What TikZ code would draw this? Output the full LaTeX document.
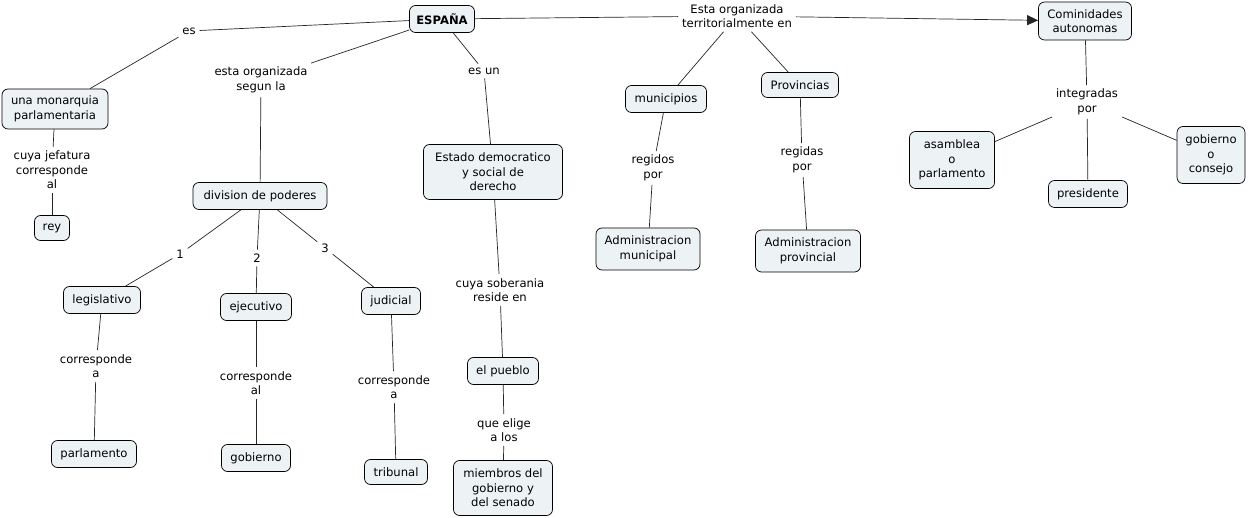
\documentclass[tikz,border=0pt]{standalone}
\usepackage{fontspec}
\setmainfont{DejaVu Sans}
\usetikzlibrary{arrows.meta}
\definecolor{boxfill}{HTML}{EDF3F5}
\newcommand{\fs}{\fontsize{11.6pt}{14.6pt}\selectfont}
\tikzset{
  cbox/.style={draw=black, line width=0.7pt, rounded corners=6pt, fill=boxfill, inner sep=0pt, align=center, font=\fs},
  lbl/.style={align=center, inner sep=1pt, outer sep=3pt, font=\fs},
  conn/.style={draw=black!85, line width=0.7pt},
}
\begin{document}
\begin{tikzpicture}[x=1pt,y=-1pt]
\useasboundingbox[fill=white] (0,0) rectangle (1248,518);
% boxes
\node[cbox, minimum width=65pt, minimum height=27pt, font=\fs\bfseries] (esp) at (442,19) {ESPAÑA};
\node[cbox, minimum width=93pt, minimum height=38pt] (com) at (1085,21) {Cominidades\\autonomas};
\node[cbox, minimum width=106pt, minimum height=40pt] (mon) at (55,109) {una monarquia\\parlamentaria};
\node[cbox, minimum width=35pt, minimum height=25pt] (rey) at (52,228) {rey};
\node[cbox, minimum width=134pt, minimum height=27pt] (div) at (260,196) {division de poderes};
\node[cbox, minimum width=77pt, minimum height=27pt] (leg) at (102,300) {legislativo};
\node[cbox, minimum width=71pt, minimum height=27pt] (eje) at (256,307) {ejecutivo};
\node[cbox, minimum width=59pt, minimum height=27pt] (jud) at (391,301) {judicial};
\node[cbox, minimum width=85pt, minimum height=27pt] (par) at (94,454) {parlamento};
\node[cbox, minimum width=69pt, minimum height=27pt] (gob) at (256,458) {gobierno};
\node[cbox, minimum width=63pt, minimum height=25pt] (tri) at (396,472) {tribunal};
\node[cbox, minimum width=139pt, minimum height=55pt] (est) at (493,172) {Estado democratico\\y social de\\derecho};
\node[cbox, minimum width=71pt, minimum height=27pt] (pue) at (503,371) {el pueblo};
\node[cbox, minimum width=99pt, minimum height=55pt] (mie) at (503,488) {miembros del\\gobierno y\\del senado};
\node[cbox, minimum width=81pt, minimum height=27pt] (mun) at (666,99) {municipios};
\node[cbox, minimum width=77pt, minimum height=25pt] (pro) at (800,85) {Provincias};
\node[cbox, minimum width=104pt, minimum height=42pt] (amu) at (648,249) {Administracion\\municipal};
\node[cbox, minimum width=105pt, minimum height=42pt] (apr) at (808,251) {Administracion\\provincial};
\node[cbox, minimum width=85pt, minimum height=57pt] (asa) at (952,160) {asamblea\\o\\parlamento};
\node[cbox, minimum width=79pt, minimum height=27pt] (pre) at (1088,194) {presidente};
\node[cbox, minimum width=68pt, minimum height=57pt] (gco) at (1211,155) {gobierno\\o\\consejo};
% labels
\node[lbl] (les) at (189,31) {es};
\node[lbl] (lorg) at (261,80) {esta organizada\\segun la};
\node[lbl] (lesun) at (484,71) {es un};
\node[lbl] (lter) at (737,16) {Esta organizada\\territorialmente en};
\node[lbl] (lint) at (1087,102) {integradas\\por};
\node[lbl] (ljef) at (52,170) {cuya jefatura\\corresponde\\al};
\node[lbl] (l1) at (180,254) {1};
\node[lbl] (l2) at (257,258) {2};
\node[lbl] (l3) at (325,248) {3};
\node[lbl] (lca1) at (96,366) {corresponde\\a};
\node[lbl] (lcal) at (256,383) {corresponde\\al};
\node[lbl] (lca2) at (394,387) {corresponde\\a};
\node[lbl] (lsob) at (500,290) {cuya soberania\\reside en};
\node[lbl] (lqe) at (504,430) {que elige\\a los};
\node[lbl] (lrgo) at (653,168) {regidos\\por};
\node[lbl] (lrga) at (802,160) {regidas\\por};
% connectors
\draw[conn] (esp) -- (les);
\draw[conn] (les) -- (mon);
\draw[conn] (esp) -- (lorg);
\draw[conn] (lorg) -- (div);
\draw[conn] (esp) -- (lesun);
\draw[conn] (lesun) -- (est);
\draw[conn] (esp) -- (lter);
\draw[conn, -{Triangle[length=11pt,width=10pt]}] (lter) -- (com);
\draw[conn] (lter) -- (mun);
\draw[conn] (lter) -- (pro);
\draw[conn] (mon) -- (ljef);
\draw[conn] (ljef) -- (rey);
\draw[conn] (div) -- (l1);
\draw[conn] (l1) -- (leg);
\draw[conn] (div) -- (l2);
\draw[conn] (l2) -- (eje);
\draw[conn] (div) -- (l3);
\draw[conn] (l3) -- (jud);
\draw[conn] (leg) -- (lca1);
\draw[conn] (lca1) -- (par);
\draw[conn] (eje) -- (lcal);
\draw[conn] (lcal) -- (gob);
\draw[conn] (jud) -- (lca2);
\draw[conn] (lca2) -- (tri);
\draw[conn] (est) -- (lsob);
\draw[conn] (lsob) -- (pue);
\draw[conn] (pue) -- (lqe);
\draw[conn] (lqe) -- (mie);
\draw[conn] (mun) -- (lrgo);
\draw[conn] (lrgo) -- (amu);
\draw[conn] (pro) -- (lrga);
\draw[conn] (lrga) -- (apr);
\draw[conn] (com) -- (lint);
\draw[conn] (lint) -- (asa);
\draw[conn] (lint) -- (pre);
\draw[conn] (lint) -- (gco);
\end{tikzpicture}
\end{document}
